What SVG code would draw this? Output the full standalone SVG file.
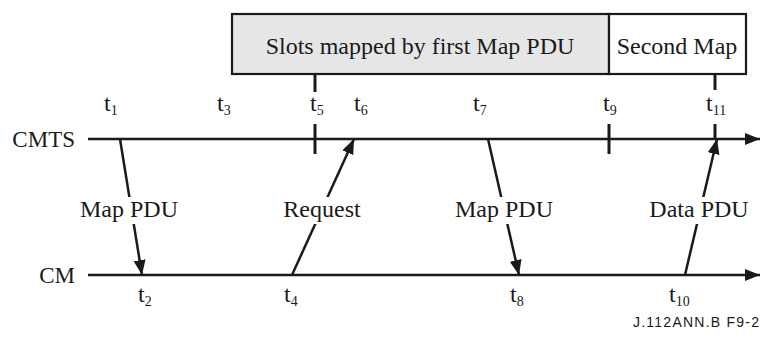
<svg xmlns="http://www.w3.org/2000/svg" width="762" height="338" viewBox="0 0 762 338">
  <defs>
    <style>
      .lbl { font-family: "Liberation Serif", "Times New Roman", serif; font-size: 24px; fill: #1a1a1a; }
      .axl { font-family: "Liberation Serif", "Times New Roman", serif; font-size: 23px; fill: #1a1a1a; }
      .t { font-family: "Liberation Serif", "Times New Roman", serif; font-size: 24px; fill: #1a1a1a; }
      .sub { font-size: 14px; }
      .axis { stroke: #1a1a1a; stroke-width: 2.5; fill: none; }
      .tick { stroke: #1a1a1a; stroke-width: 3; fill: none; }
      .msg { stroke: #1a1a1a; stroke-width: 2.5; fill: none; }
      .box { stroke: #1a1a1a; stroke-width: 2.2; }
      .note { font-family: "Liberation Sans", Arial, sans-serif; font-size: 14px; fill: #1a1a1a; }
    </style>
    <marker id="ah" markerUnits="userSpaceOnUse" markerWidth="16" markerHeight="14" viewBox="0 0 16 14" refX="15" refY="7" orient="auto">
      <path d="M0,1 L15,7 L0,13 Z" fill="#1a1a1a"/>
    </marker>
  </defs>
  <rect width="762" height="338" fill="#ffffff"/>

  <g id="map-box">
    <rect class="box" x="232" y="14" width="377" height="60" fill="#e6e6e6"/>
    <text class="lbl" x="420" y="54" text-anchor="middle">Slots mapped by first Map PDU</text>
  </g>
  <g id="second-map-box">
    <rect class="box" x="609" y="14" width="137" height="60" fill="#ffffff"/>
    <text class="lbl" x="677" y="54" text-anchor="middle">Second Map</text>
  </g>

  <g id="cmts">
    <text class="axl" x="75" y="147" text-anchor="end">CMTS</text>
    <line class="axis" x1="88" y1="139" x2="760" y2="139" marker-end="url(#ah)"/>
  </g>
  <g id="cm">
    <text class="axl" x="75" y="283" text-anchor="end">CM</text>
    <line class="axis" x1="88" y1="275" x2="760" y2="275" marker-end="url(#ah)"/>
  </g>

  <g id="ticks">
    <line class="tick" x1="315" y1="74" x2="315" y2="92"/>
    <line class="tick" x1="315" y1="124" x2="315" y2="154"/>
    <line class="tick" x1="609" y1="124" x2="609" y2="154"/>
    <line class="tick" x1="715" y1="74" x2="715" y2="90"/>
    <line class="tick" x1="715" y1="124" x2="715" y2="139"/>
  </g>

  <g id="time-labels">
    <text class="t" x="104" y="111">t<tspan class="sub" dy="4">1</tspan></text>
    <text class="t" x="217" y="111">t<tspan class="sub" dy="4">3</tspan></text>
    <text class="t" x="310" y="111">t<tspan class="sub" dy="4">5</tspan></text>
    <text class="t" x="354" y="111">t<tspan class="sub" dy="4">6</tspan></text>
    <text class="t" x="473" y="111">t<tspan class="sub" dy="4">7</tspan></text>
    <text class="t" x="603" y="111">t<tspan class="sub" dy="4">9</tspan></text>
    <text class="t" x="706" y="111">t<tspan class="sub" dy="4">11</tspan></text>
    <text class="t" x="138" y="302">t<tspan class="sub" dy="4">2</tspan></text>
    <text class="t" x="284" y="302">t<tspan class="sub" dy="4">4</tspan></text>
    <text class="t" x="510" y="302">t<tspan class="sub" dy="4">8</tspan></text>
    <text class="t" x="669" y="302">t<tspan class="sub" dy="4">10</tspan></text>
  </g>

  <g id="connectors">
    <line class="msg" x1="120" y1="139" x2="142" y2="275" marker-end="url(#ah)"/>
    <line class="msg" x1="292" y1="275" x2="354" y2="139" marker-end="url(#ah)"/>
    <line class="msg" x1="488" y1="139" x2="519" y2="275" marker-end="url(#ah)"/>
    <line class="msg" x1="685" y1="275" x2="717" y2="139" marker-end="url(#ah)"/>
  </g>

  <g id="msg-labels">
    <rect x="79" y="197" width="100" height="27" fill="#ffffff"/>
    <text class="lbl" x="129" y="217" text-anchor="middle">Map PDU</text>
    <rect x="281" y="197" width="82" height="27" fill="#ffffff"/>
    <text class="lbl" x="322" y="217" text-anchor="middle">Request</text>
    <rect x="454" y="197" width="100" height="27" fill="#ffffff"/>
    <text class="lbl" x="504" y="217" text-anchor="middle">Map PDU</text>
    <rect x="648" y="197" width="103" height="27" fill="#ffffff"/>
    <text class="lbl" x="699" y="217" text-anchor="middle">Data PDU</text>
  </g>

  <text class="note" x="633" y="327" textLength="126" lengthAdjust="spacing">J.112ANN.B  F9-2</text>
</svg>
